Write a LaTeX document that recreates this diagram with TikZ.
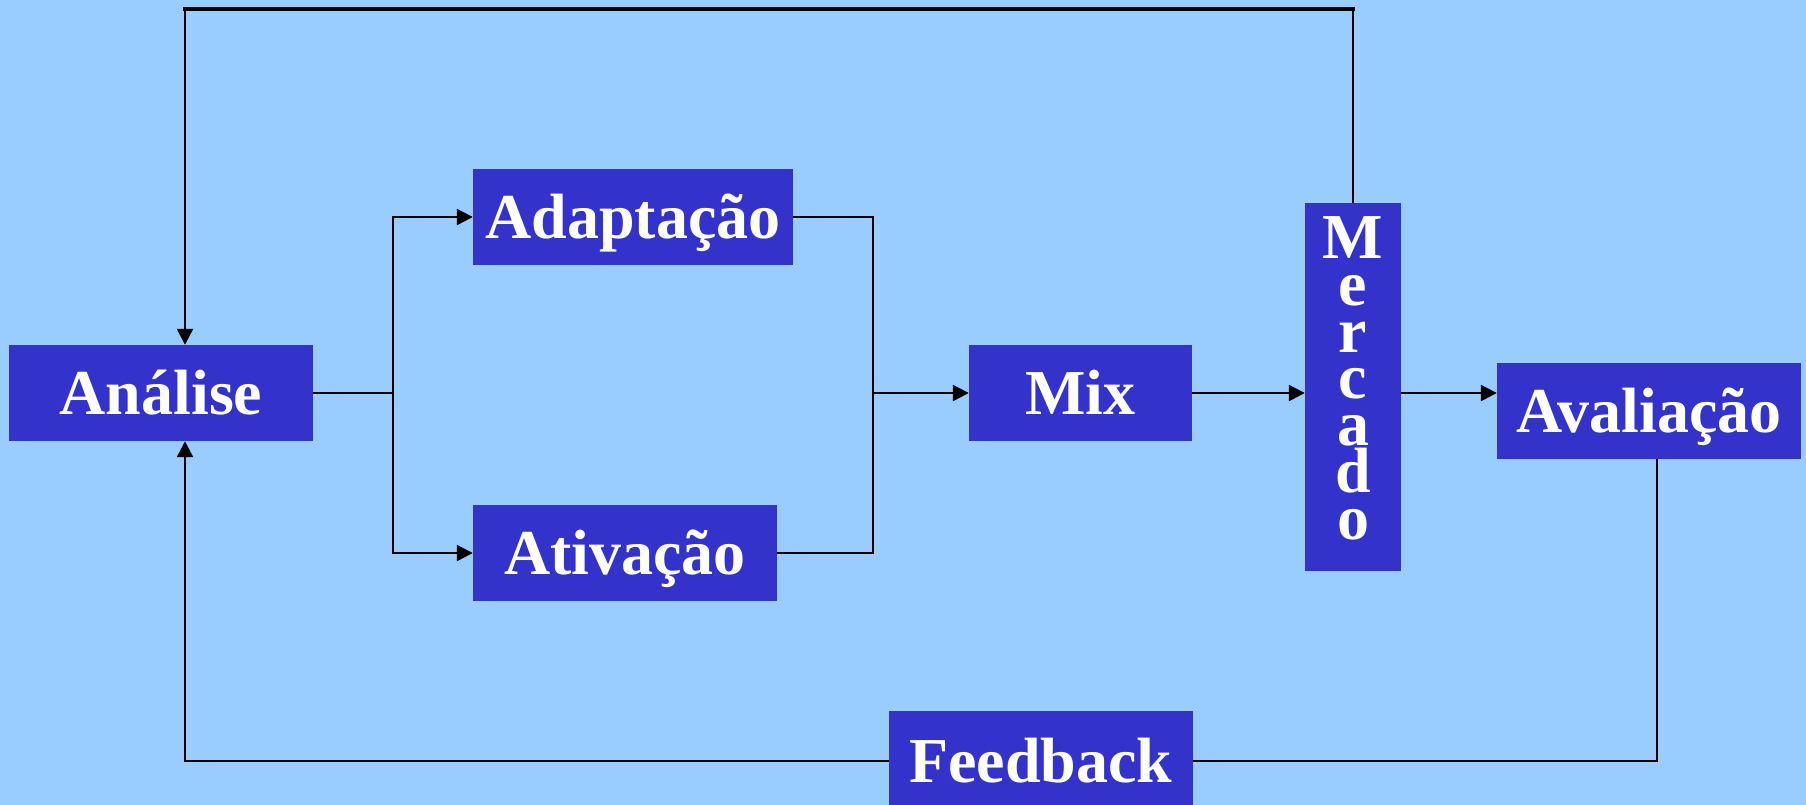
\documentclass[tikz,border=0pt]{standalone}
\usepackage{fontspec}
\setmainfont{Liberation Serif}
\usetikzlibrary{arrows.meta}
\definecolor{bg}{HTML}{99CCFF}
\definecolor{boxblue}{HTML}{3333CC}
\tikzset{
  box/.style={fill=boxblue, draw=none, inner sep=0pt, text=white,
    font=\fontsize{64}{46.7}\selectfont\bfseries, text height=43pt, text depth=0pt},
  conn/.style={draw=black, line width=2.4pt},
  arr/.style={conn, -{Triangle[length=16pt,width=16pt]}},
}
\begin{document}
\begin{tikzpicture}[x=1pt,y=-1pt]
\fill[bg] (0,0) rectangle (1806,805);
\useasboundingbox (0,0) rectangle (1806,805);
% nodes
\node[box, minimum width=304, minimum height=96] (analise) at (161,393) {Análise};
\node[box, minimum width=320, minimum height=96] (adapt) at (633,217) {Adaptação};
\node[box, minimum width=304, minimum height=96] (ativ) at (625,553) {Ativação};
\node[box, minimum width=223, minimum height=96] (mix) at (1080.5,393) {Mix};
\node[box, minimum width=96, minimum height=368, align=center, text height=323pt, text depth=19pt] (mercado) at (1353,387) {M\\e\\r\\c\\a\\d\\o};
\node[box, minimum width=304, minimum height=96] (aval) at (1649,411) {Avaliação};
\node[box, minimum width=304, minimum height=100] (fb) at (1041,761) {Feedback};
% coordinates
\coordinate (tl) at (185,9);
\coordinate (tr) at (1353,9);
\coordinate (split) at (393,393);
\coordinate (merge) at (873,393);
\coordinate (avb) at (1657,459);
% connectors
\draw[conn] (mercado.north) -- (tr);
\draw[conn, line width=4pt, line cap=rect] (tr) -- (tl);
\draw[arr] (tl) -- (analise.north -| tl);
\draw[conn] (analise.east) -- (split);
\draw[arr] (split) |- (adapt.west);
\draw[arr] (split) |- (ativ.west);
\draw[conn] (adapt.east) -| (merge);
\draw[conn] (ativ.east) -| (merge);
\draw[arr] (merge) -- (mix.west);
\draw[arr] (mix.east) -- (mix.east -| mercado.west);
\draw[arr] (mix.east -| mercado.east) -- (mix.east -| aval.west);
\draw[conn] (fb.east) -| (avb);
\draw[arr] (fb.west) -| (analise.south -| tl);
\end{tikzpicture}
\end{document}
